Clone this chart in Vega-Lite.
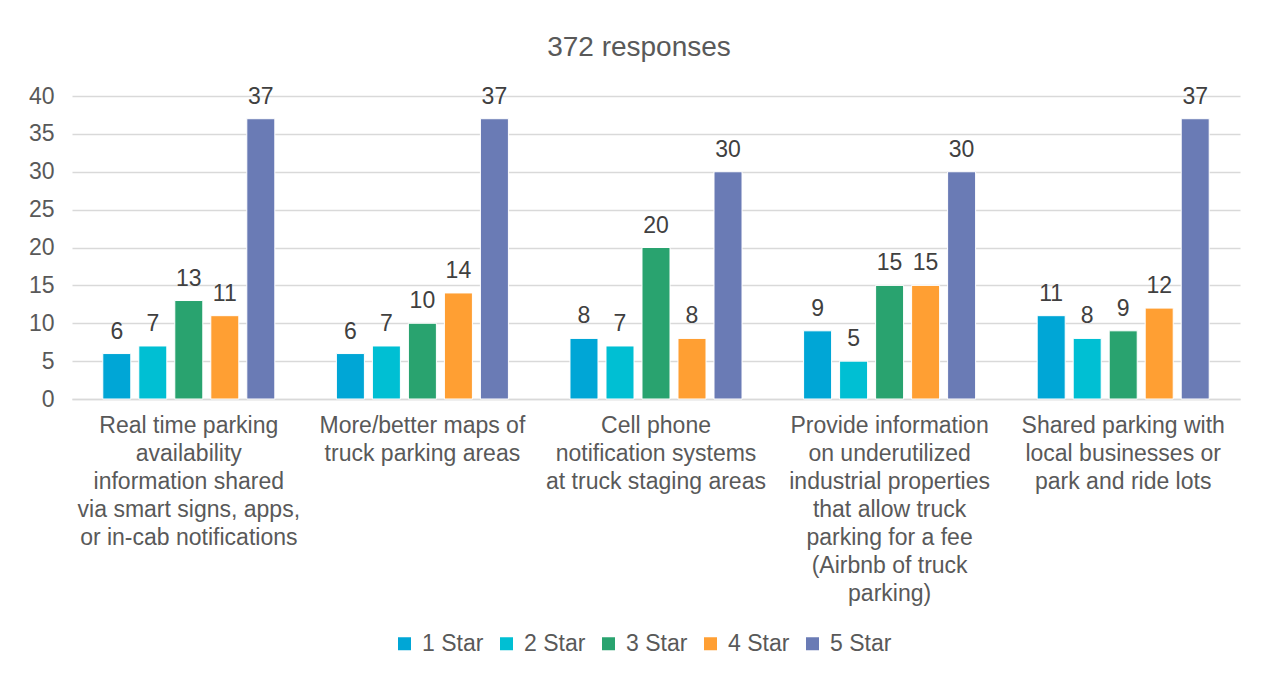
{
  "$schema": "https://vega.github.io/schema/vega-lite/v6.json",
  "width": 1168,
  "height": 303,
  "autosize": {"type": "none"},
  "padding": {"left": 72, "top": 96, "right": 24, "bottom": 278},
  "background": "white",
  "title": {
    "text": "372 responses",
    "fontSize": 28,
    "font": "Liberation Sans",
    "fontWeight": "normal",
    "color": "#595959",
    "anchor": "middle",
    "frame": "group",
    "offset": 23,
    "dx": -17
  },
  "config": {
    "font": "Liberation Sans",
    "view": {"stroke": null},
    "axis": {"labelFont": "Liberation Sans", "labelColor": "#595959"},
    "legend": {"labelFont": "Liberation Sans", "labelColor": "#595959"}
  },
  "data": {
    "values": [
      {"item": "Real time parking|availability|information shared|via smart signs, apps,|or in-cab notifications", "rating": "1 Star", "count": 6},
      {"item": "Real time parking|availability|information shared|via smart signs, apps,|or in-cab notifications", "rating": "2 Star", "count": 7},
      {"item": "Real time parking|availability|information shared|via smart signs, apps,|or in-cab notifications", "rating": "3 Star", "count": 13},
      {"item": "Real time parking|availability|information shared|via smart signs, apps,|or in-cab notifications", "rating": "4 Star", "count": 11},
      {"item": "Real time parking|availability|information shared|via smart signs, apps,|or in-cab notifications", "rating": "5 Star", "count": 37},
      {"item": "More/better maps of|truck parking areas", "rating": "1 Star", "count": 6},
      {"item": "More/better maps of|truck parking areas", "rating": "2 Star", "count": 7},
      {"item": "More/better maps of|truck parking areas", "rating": "3 Star", "count": 10},
      {"item": "More/better maps of|truck parking areas", "rating": "4 Star", "count": 14},
      {"item": "More/better maps of|truck parking areas", "rating": "5 Star", "count": 37},
      {"item": "Cell phone|notification systems|at truck staging areas", "rating": "1 Star", "count": 8},
      {"item": "Cell phone|notification systems|at truck staging areas", "rating": "2 Star", "count": 7},
      {"item": "Cell phone|notification systems|at truck staging areas", "rating": "3 Star", "count": 20},
      {"item": "Cell phone|notification systems|at truck staging areas", "rating": "4 Star", "count": 8},
      {"item": "Cell phone|notification systems|at truck staging areas", "rating": "5 Star", "count": 30},
      {"item": "Provide information|on underutilized|industrial properties|that allow truck|parking for a fee|(Airbnb of truck|parking)", "rating": "1 Star", "count": 9},
      {"item": "Provide information|on underutilized|industrial properties|that allow truck|parking for a fee|(Airbnb of truck|parking)", "rating": "2 Star", "count": 5},
      {"item": "Provide information|on underutilized|industrial properties|that allow truck|parking for a fee|(Airbnb of truck|parking)", "rating": "3 Star", "count": 15},
      {"item": "Provide information|on underutilized|industrial properties|that allow truck|parking for a fee|(Airbnb of truck|parking)", "rating": "4 Star", "count": 15},
      {"item": "Provide information|on underutilized|industrial properties|that allow truck|parking for a fee|(Airbnb of truck|parking)", "rating": "5 Star", "count": 30},
      {"item": "Shared parking with|local businesses or|park and ride lots", "rating": "1 Star", "count": 11},
      {"item": "Shared parking with|local businesses or|park and ride lots", "rating": "2 Star", "count": 8},
      {"item": "Shared parking with|local businesses or|park and ride lots", "rating": "3 Star", "count": 9},
      {"item": "Shared parking with|local businesses or|park and ride lots", "rating": "4 Star", "count": 12},
      {"item": "Shared parking with|local businesses or|park and ride lots", "rating": "5 Star", "count": 37}
    ]
  },
  "encoding": {
    "x": {
      "field": "item",
      "type": "nominal",
      "sort": null,
      "scale": {"paddingInner": 0, "paddingOuter": 0},
      "axis": {
        "title": null,
        "labelAngle": 0,
        "labelFontSize": 23,
        "labelLineHeight": 28,
        "labelBaseline": "top",
        "labelPadding": 15,
        "labelLimit": 0,
        "labelExpr": "split(datum.label, '|')",
        "ticks": false,
        "domain": true,
        "domainColor": "#D9D9D9",
        "domainWidth": 1.5
      }
    },
    "xOffset": {
      "field": "rating",
      "type": "nominal",
      "scale": {"paddingInner": 0.222, "paddingOuter": 0.855}
    },
    "y": {
      "field": "count",
      "type": "quantitative",
      "scale": {"domain": [0, 40]},
      "axis": {
        "title": null,
        "values": [0, 5, 10, 15, 20, 25, 30, 35, 40],
        "labelFontSize": 23,
        "labelPadding": 18,
        "ticks": false,
        "domain": false,
        "gridColor": "#D9D9D9",
        "gridWidth": 1.5
      }
    }
  },
  "layer": [
    {
      "mark": {"type": "bar", "stroke": "white", "strokeWidth": 1},
      "encoding": {
        "color": {
          "field": "rating",
          "type": "nominal",
          "scale": {
            "domain": ["1 Star", "2 Star", "3 Star", "4 Star", "5 Star"],
            "range": ["#00A6D6", "#00BFD3", "#29A36F", "#FF9F33", "#6A7BB5"]
          },
          "legend": {
            "title": null,
            "orient": "none",
            "direction": "horizontal",
            "legendX": 321,
            "legendY": 536,
            "symbolType": "square",
            "symbolSize": 169,
            "symbolStrokeWidth": 0,
            "labelFontSize": 23,
            "labelOffset": 6,
            "columnPadding": 11
          }
        }
      }
    },
    {
      "mark": {"type": "text", "baseline": "bottom", "dy": -10, "fontSize": 23, "color": "#404040"},
      "encoding": {"text": {"field": "count", "type": "quantitative"}}
    }
  ]
}
